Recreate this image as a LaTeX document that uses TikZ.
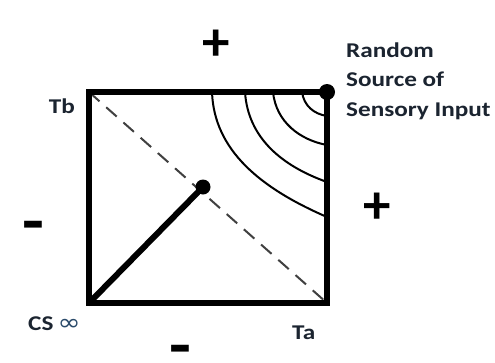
\documentclass[tikz,border=0pt]{standalone}
\usepackage{fontspec}
\setmainfont{Carlito}
\newfontfamily\symfont{DejaVu Sans}
\newcommand{\stretchx}[1]{\scalebox{1.2}[1]{#1}}
\newcommand{\minussign}{\raisebox{-15.5pt}[0pt][0pt]{\scalebox{1.3}[1.2]{-}}}
\definecolor{ink}{HTML}{1B2430}
\definecolor{infcol}{HTML}{2A4A6A}
\begin{document}
\begin{tikzpicture}[x=1pt,y=-1pt,
  lbl/.style={inner sep=0pt, text=ink, font=\fontsize{21}{26}\selectfont\bfseries},
  sign/.style={inner sep=0pt, text=black, font=\fontsize{55}{55}\selectfont\bfseries},
  frame/.style={line width=6.5pt, line join=miter},
  curve/.style={line width=2pt, black},
  dashline/.style={line width=2pt, black!75, dash pattern=on 14pt off 9pt},
  thick line/.style={line width=6pt, line cap=round},
  dot/.style={circle, fill=black, inner sep=0pt}]
\useasboundingbox (0,0) rectangle (495,362);
\fill[white] (0,0) rectangle (495,362);
% corners
\coordinate (TL) at (89,92);
\coordinate (TR) at (327,92);
\coordinate (BL) at (89,303);
\coordinate (BR) at (327,303);
% dashed diagonal
\draw[dashline] (TL) -- (BR);
% curves
\draw[curve] (212,92) .. controls (214,150) and (260,188) .. (327,217);
\draw[curve] (245,92) .. controls (248,138) and (282,166) .. (327,182);
\draw[curve] (273,92) .. controls (276,122) and (300,140) .. (327,145);
\draw[curve] (302,92) .. controls (304,106) and (314,114) .. (327,116);
% frame
\draw[frame] (TL) -- (TR) -- (BR) -- (BL) -- cycle;
% dots
\node[dot, minimum size=16pt] (src) at (TR) {};
\node[dot, minimum size=15pt] (mid) at (203,187) {};
\draw[thick line] (BL) -- (mid);
% labels
\node[lbl, anchor=base west] (l1) at (346,57) {\stretchx{Random}};
\node[lbl, anchor=base west] (l2) at (346,86) {\stretchx{Source of}};
\node[lbl, anchor=base west] (l3) at (346,116) {\stretchx{Sensory Input}};
\node[lbl, anchor=base east] (tb) at (75,113) {\stretchx{Tb}};
\node[lbl, anchor=base west] (cs) at (28,330) {\stretchx{CS\,{\mdseries\color{infcol}\symfont\fontsize{23}{23}\selectfont ∞}}};
\node[lbl, anchor=base west] (ta) at (292,339) {\stretchx{Ta}};
% signs
\node[sign] (ptop) at (216,45) {+};
\node[sign] (pright) at (377,208) {+};
\node[sign] (mleft) at (33,228) {\minussign};
\node[sign] (mbot) at (180,352) {\minussign};
\end{tikzpicture}
\end{document}
